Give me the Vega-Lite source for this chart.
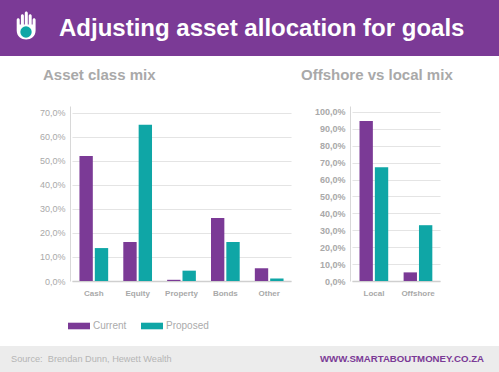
{
"$schema":"https://vega.github.io/schema/vega-lite/v6.json",
"padding":0,"spacing":0,"background":"white",
"config":{"font":"Liberation Sans","view":{"stroke":null},"concat":{"spacing":0}},
"datasets":{"assets":[
{"category":"Cash","series":"Current","share":52},{"category":"Cash","series":"Proposed","share":13.7},
{"category":"Equity","series":"Current","share":16.2},{"category":"Equity","series":"Proposed","share":65},
{"category":"Property","series":"Current","share":0.5},{"category":"Property","series":"Proposed","share":4.3},
{"category":"Bonds","series":"Current","share":26.2},{"category":"Bonds","series":"Proposed","share":16.2},
{"category":"Other","series":"Current","share":5.3},{"category":"Other","series":"Proposed","share":1}],
"mix":[{"category":"Local","series":"Current","share":94.7},{"category":"Local","series":"Proposed","share":67.3},
{"category":"Offshore","series":"Current","share":5.1},{"category":"Offshore","series":"Proposed","share":33}],
"none":[]},
"vconcat":[
{"width":499,"height":56,"view":{"fill":"#7B3A96","stroke":null},
 "data":{"values":[{"label":"Adjusting asset allocation for goals"}]},
 "layer":[
 {"mark":{"type":"point","filled":true,"opacity":1,"color":"white","strokeWidth":0,"shape":"M-0.62,0.1 L-0.62,-0.42 C-0.62,-0.56 -0.42,-0.56 -0.42,-0.42 L-0.42,-0.1 L-0.34,-0.1 L-0.34,-0.68 C-0.34,-0.82 -0.14,-0.82 -0.14,-0.68 L-0.14,-0.1 L-0.08,-0.1 L-0.08,-0.86 C-0.08,-1 0.12,-1 0.12,-0.86 L0.12,-0.1 L0.18,-0.1 L0.18,-0.68 C0.18,-0.82 0.38,-0.82 0.38,-0.68 L0.38,-0.1 L0.44,-0.1 L0.44,-0.42 C0.44,-0.56 0.64,-0.56 0.64,-0.42 L0.64,0.3 C0.64,1.1 -0.62,1.1 -0.62,0.3 Z","size":900},
  "encoding":{"x":{"datum":26,"type":"quantitative","scale":{"domain":[0,499],"nice":false},"axis":null},"y":{"datum":26,"type":"quantitative","scale":{"domain":[56,0],"nice":false},"axis":null}}},
 {"mark":{"type":"point","filled":true,"opacity":1,"color":"#0FA6A6","strokeWidth":0,"shape":"circle","size":130},
  "encoding":{"x":{"datum":26,"type":"quantitative"},"y":{"datum":32,"type":"quantitative"}}},
 {"mark":{"type":"text","align":"left","baseline":"middle","font":"Liberation Sans","fontWeight":"bold","fontSize":24,"color":"white"},
  "encoding":{"x":{"datum":59,"type":"quantitative"},"y":{"datum":29,"type":"quantitative"},"text":{"field":"label"}}}
 ]},
{"width":10,"height":12,"data":{"name":"none"},"mark":"point"},
{"hconcat":[
 {"width":72,"height":1,"data":{"name":"none"},"mark":"point"},
 {"width":219,"height":175,
  "title":{"text":"Asset class mix","anchor":"start","frame":"group","dx":-29,"fontSize":15,"fontWeight":"bold","color":"#A9A9A9","offset":23},
  "data":{"name":"assets"},
  "mark":{"type":"bar"},
  "encoding":{
   "x":{"field":"category","type":"nominal","sort":["Cash","Equity","Property","Bonds","Other"],"scale":{"paddingInner":0.345,"paddingOuter":0.17},
    "axis":{"title":null,"labelAngle":0,"labelFontSize":8,"labelColor":"#A9A9A9","domainColor":"#CFCFCF","domainWidth":1.5,"ticks":false,"labelPadding":8,"labelFontWeight":"bold"}},
   "xOffset":{"field":"series","type":"nominal","scale":{"paddingInner":0.13}},
   "y":{"field":"share","type":"quantitative","scale":{"domain":[0,72.8],"nice":false},
    "axis":{"title":null,"values":[0,10,20,30,40,50,60,70],"labelExpr":"replace(format(datum.value,'.1f'),'.',',')+'%'","labelFontSize":9,"labelColor":"#A9A9A9","gridColor":"#E4E4E4","gridWidth":1.2,"domainColor":"#D8D8D8","domainWidth":1,"ticks":false,"offset":2,"labelPadding":5}},
   "color":{"field":"series","type":"nominal","scale":{"domain":["Current","Proposed"],"range":["#7B3A96","#0FA6A6"]},
    "legend":{"title":null,"orient":"none","legendX":-4,"legendY":209,"direction":"horizontal","symbolType":"M-1,-0.3 L1,-0.3 L1,0.3 L-1,0.3 Z","symbolSize":484,"symbolStrokeWidth":0,"labelFontSize":10,"labelColor":"#ABABAB","columns":2,"columnPadding":14,"labelOffset":3,"symbolOpacity":1}}
  }},
 {"width":61,"height":1,"data":{"name":"none"},"mark":"point"},
 {"width":88,"height":175,
  "title":{"text":"Offshore vs local mix","anchor":"start","frame":"group","dx":-51,"fontSize":15,"fontWeight":"bold","color":"#A9A9A9","offset":23},
  "data":{"name":"mix"},
  "mark":{"type":"bar"},
  "encoding":{
   "x":{"field":"category","type":"nominal","scale":{"paddingInner":0.345,"paddingOuter":0.17},
    "axis":{"title":null,"labelAngle":0,"labelFontSize":8,"labelColor":"#A9A9A9","domainColor":"#CFCFCF","domainWidth":1.5,"ticks":false,"labelPadding":8,"labelFontWeight":"bold"}},
   "xOffset":{"field":"series","type":"nominal","scale":{"paddingInner":0.13}},
   "y":{"field":"share","type":"quantitative","scale":{"domain":[0,103.5],"nice":false},
    "axis":{"title":null,"values":[0,10,20,30,40,50,60,70,80,90,100],"labelExpr":"replace(format(datum.value,'.1f'),'.',',')+'%'","labelFontSize":9,"labelFontWeight":"bold","labelColor":"#A9A9A9","gridColor":"#E4E4E4","gridWidth":1.2,"domainColor":"#D8D8D8","domainWidth":1,"ticks":false,"offset":2,"labelPadding":5}},
   "color":{"field":"series","type":"nominal","scale":{"domain":["Current","Proposed"],"range":["#7B3A96","#0FA6A6"]},"legend":null}
  }}
 ],"bounds":"flush","resolve":{"scale":{"color":"independent"}}},
{"width":10,"height":15,"data":{"name":"none"},"mark":"point"},
{"width":499,"height":26,"view":{"fill":"#ECECEC","stroke":null},
 "data":{"values":[{"source":"Source:\u00a0\u00a0Brendan Dunn, Hewett Wealth","site":"WWW.SMARTABOUTMONEY.CO.ZA"}]},
 "layer":[
 {"mark":{"type":"text","align":"left","baseline":"middle","fontSize":9.2,"color":"#B5B5B5"},
  "encoding":{"x":{"datum":11,"type":"quantitative","scale":{"domain":[0,499],"nice":false},"axis":null},"y":{"datum":13,"type":"quantitative","scale":{"domain":[26,0],"nice":false},"axis":null},"text":{"field":"source"}}},
 {"mark":{"type":"text","align":"left","baseline":"middle","fontSize":9.65,"fontWeight":"bold","color":"#7B3A96"},
  "encoding":{"x":{"datum":320,"type":"quantitative"},"y":{"datum":13,"type":"quantitative"},"text":{"field":"site"}}}
 ]}
]}
